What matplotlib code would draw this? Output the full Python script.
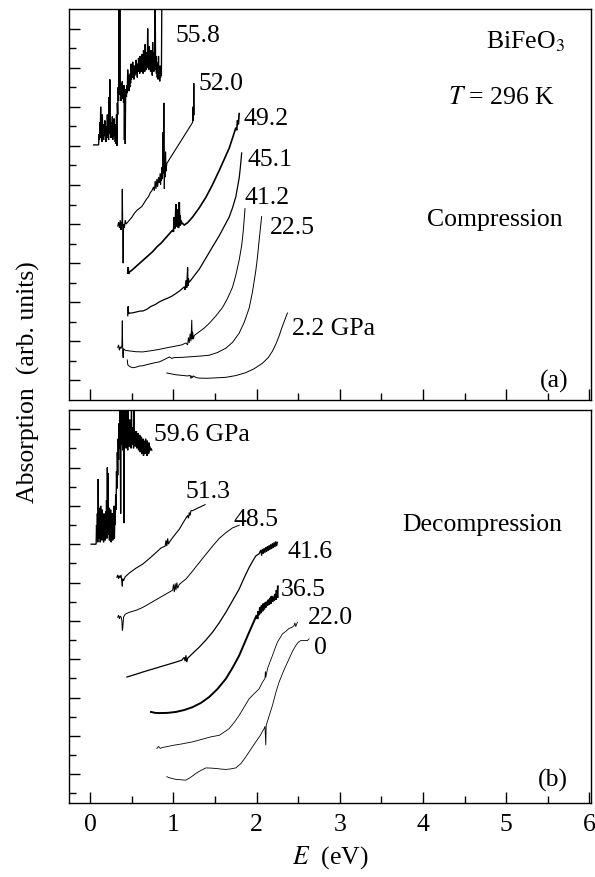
import matplotlib
matplotlib.use("Agg")
import matplotlib.pyplot as plt
from matplotlib.ticker import FixedLocator

plt.rcParams['font.family'] = ['Liberation Serif', 'DejaVu Serif']
plt.rcParams['mathtext.fontset'] = 'stix'
FS = 18.5

# ---------------- panel (a): compression ----------------
p558 = [(0.04,13.05),(0.10,13.05),(0.105,13.6),(0.11,13.3),(0.115,14.2),(0.12,13.5),(0.125,15.0),(0.13,13.4),
        (0.135,14.0),(0.14,13.2),(0.145,14.6),(0.15,13.6),(0.155,14.1),(0.16,13.3),(0.165,13.9),(0.17,13.5),
        (0.175,14.3),(0.18,13.6),(0.185,14.0),(0.19,13.2),(0.195,13.8),(0.20,13.4),(0.205,14.6),(0.21,13.5),
        (0.215,14.0),(0.22,13.3),(0.225,15.5),(0.23,13.8),(0.235,16.4),(0.24,13.6),(0.245,14.2),(0.25,13.4),
        (0.255,14.0),(0.26,13.7),(0.265,14.5),(0.27,13.3),(0.275,13.9),(0.28,13.5),(0.285,14.4),(0.29,13.6),
        (0.295,14.1),(0.30,13.2),(0.305,14.0),(0.31,13.1),(0.315,14.6),(0.32,13.0),(0.325,15.2),(0.33,14.6),
        (0.335,16.0),(0.34,15.3),(0.345,20.5),(0.35,15.8),(0.355,20.5),(0.36,15.6),(0.365,16.2),(0.37,15.3),
        (0.375,16.0),(0.38,15.5),(0.385,16.3),(0.39,15.4),(0.395,15.9),(0.40,15.2),(0.405,16.1),(0.41,13.3),
        (0.415,15.8),(0.42,13.1),(0.425,15.6),(0.43,15.9),(0.435,15.5),(0.44,16.1),(0.445,15.7),(0.45,16.9),
        (0.455,15.9),(0.46,16.4),(0.465,15.8),(0.47,16.6),(0.475,16.0),(0.48,16.7),(0.485,16.2),(0.49,17.2),
        (0.495,16.4),(0.50,16.9),(0.505,16.5),(0.51,17.3),(0.515,16.6),(0.52,16.9),(0.525,16.4),(0.53,17.1),
        (0.535,16.6),(0.54,17.0),(0.545,16.7),(0.55,17.4),(0.555,16.8),(0.56,17.0),(0.565,16.5),(0.57,17.2),
        (0.575,16.8),(0.58,17.5),(0.585,16.9),(0.59,17.1),(0.595,16.7),(0.60,17.6),(0.605,16.9),(0.61,17.2),
        (0.615,16.8),(0.62,17.7),(0.625,16.9),(0.63,17.3),(0.635,16.7),(0.64,17.9),(0.645,17.0),(0.65,17.4),
        (0.655,16.8),(0.66,18.2),(0.665,17.0),(0.67,17.5),(0.675,16.9),(0.68,17.8),(0.685,17.1),(0.69,19.0),
        (0.695,17.0),(0.70,17.6),(0.705,16.9),(0.71,18.1),(0.715,17.2),(0.72,17.7),(0.725,16.8),(0.73,17.9),
        (0.735,17.1),(0.74,17.5),(0.745,16.6),(0.75,18.3),(0.755,17.0),(0.76,17.4),(0.765,16.8),(0.77,17.8),
        (0.775,16.9),(0.78,20.5),(0.785,17.2),(0.79,17.6),(0.795,16.7),(0.80,17.3),(0.805,16.5),(0.81,17.0),
        (0.815,16.4),(0.82,17.6),(0.825,16.6),(0.83,16.9),(0.835,16.3),(0.84,17.1),(0.845,16.5),(0.85,17.0),
        (0.855,16.6),(0.86,20.5),(0.865,20.5)]
p520 = [(0.33,8.9),(0.34,9.1),(0.35,8.8),(0.36,9.2),(0.37,8.7),(0.375,9.1),(0.38,8.9),(0.385,10.8),(0.39,8.8),
        (0.395,7.0),(0.40,9.0),(0.41,8.8),(0.42,9.2),(0.43,9.0),(0.45,9.1),(0.47,9.2),(0.50,9.35),(0.53,9.55),
        (0.56,9.7),(0.59,9.8),(0.62,9.9),(0.65,10.1),(0.68,10.3),(0.70,10.4),(0.72,10.6),(0.74,10.7),(0.76,10.9),
        (0.77,10.7),(0.78,11.2),(0.79,10.8),(0.80,11.3),(0.81,10.9),(0.82,11.4),(0.83,11.1),(0.84,11.6),
        (0.845,11.0),(0.85,11.55),(0.855,11.2),(0.86,11.9),(0.865,11.3),(0.87,11.4),(0.875,13.7),(0.88,11.6),
        (0.885,15.2),(0.89,10.8),(0.895,12.1),(0.90,11.4),(0.905,12.7),(0.91,11.7),(0.92,12.1),(1.23,14.2),
        (1.235,15.0),(1.24,14.3),(1.245,16.2),(1.25,14.6)]
p492 = [(0.45,6.5),(0.455,6.8),(0.46,6.45),(0.47,6.55),(0.50,6.64),(0.55,6.83),(0.60,7.02),(0.65,7.21),
        (0.70,7.40),(0.75,7.59),(0.80,7.83),(0.85,8.02),(0.90,8.26),(0.95,8.5),(0.99,8.69),(1.00,8.6),
        (1.01,9.36),(1.02,8.78),(1.03,10.02),(1.04,8.88),(1.05,9.74),(1.06,8.8),(1.07,10.12),(1.075,8.9),
        (1.08,9.45),(1.085,8.97),(1.09,9.17),(1.10,9.07),(1.13,8.95),(1.17,9.07),(1.23,9.36),(1.31,9.83),
        (1.39,10.37),(1.47,11.02),(1.55,11.74),(1.61,12.31),(1.67,12.88),(1.71,13.4),(1.75,13.93),(1.76,13.8),
        (1.77,14.31),(1.78,14.1),(1.79,14.65)]
p451 = [(0.45,4.31),(0.455,4.79),(0.46,4.41),(0.47,4.45),(0.50,4.45),(0.55,4.5),(0.60,4.55),(0.63,4.55),
        (0.68,4.64),(0.73,4.79),(0.78,4.88),(0.83,5.02),(0.88,5.12),(0.93,5.21),(0.98,5.31),(1.03,5.45),
        (1.08,5.6),(1.13,5.79),(1.14,5.64),(1.15,6.12),(1.16,5.74),(1.17,6.79),(1.175,5.83),(1.18,6.21),
        (1.19,6.02),(1.25,6.36),(1.31,6.69),(1.37,7.12),(1.43,7.55),(1.49,7.98),(1.55,8.40),(1.61,8.88),
        (1.67,9.36),(1.71,9.83),(1.75,10.40),(1.77,10.88),(1.79,11.36),(1.805,11.93),(1.82,12.64)]
p412 = [(0.33,2.68),(0.34,2.82),(0.35,2.54),(0.36,2.73),(0.37,2.63),(0.38,2.78),(0.385,4.06),(0.39,2.44),
        (0.395,2.16),(0.40,2.63),(0.42,2.54),(0.47,2.51),(0.55,2.47),(0.63,2.46),(0.73,2.52),(0.83,2.59),
        (0.93,2.68),(1.03,2.76),(1.10,2.82),(1.15,2.92),(1.17,2.82),(1.18,3.2),(1.19,2.92),(1.20,3.39),
        (1.21,3.01),(1.22,4.1),(1.225,3.11),(1.23,3.49),(1.24,3.11),(1.25,3.3),(1.30,3.46),(1.37,3.68),
        (1.43,3.92),(1.51,4.3),(1.59,4.73),(1.65,5.2),(1.71,5.77),(1.75,6.39),(1.79,7.16),(1.82,7.9),
        (1.84,8.69),(1.86,9.79)]
p225 = [(0.445,2.05),(0.45,1.81),(0.46,1.76),(0.48,1.7),(0.51,1.65),(0.55,1.68),(0.59,1.74),(0.63,1.75),
        (0.68,1.81),(0.73,1.86),(0.78,1.91),(0.83,1.95),(0.89,2.07),(0.95,2.2),(0.98,2.13),(1.01,2.17),
        (1.10,2.18),(1.23,2.22),(1.33,2.25),(1.43,2.29),(1.53,2.43),(1.63,2.65),(1.71,2.95),(1.79,3.42),
        (1.85,3.97),(1.91,4.7),(1.95,5.53),(1.99,6.62),(2.01,7.31),(2.03,8.17),(2.06,9.38)]
p22 = [(0.92,1.38),(0.97,1.34),(1.03,1.29),(1.10,1.26),(1.17,1.23),(1.20,1.26),(1.21,1.10),(1.22,1.24),
       (1.23,1.15),(1.24,1.23),(1.27,1.15),(1.31,1.12),(1.40,1.11),(1.50,1.13),(1.63,1.16),(1.75,1.25),
       (1.87,1.4),(1.97,1.6),(2.07,1.88),(2.14,2.17),(2.19,2.5),(2.23,2.85),(2.27,3.27),(2.30,3.66),
       (2.33,4.0),(2.37,4.45)]
curves_a = [p558, p520, p492, p451, p412, p225, p22]
widths_a = [0.95, 0.8, 1.2, 0.9, 0.7, 0.7, 0.7]
labels_a = ['55.8', '52.0', '49.2', '45.1', '41.2', '22.5', '2.2 GPa']
label_pos_a = [(1.03, 18.32), (1.30, 15.87), (1.84, 14.05), (1.89, 11.99), (1.86, 10.03), (2.16, 8.47), (2.43, 3.33)]

# ---------------- panel (b): decompression ----------------
d596 = [(0.01,13.0),(0.07,13.0),(0.075,14.0),(0.08,13.2),(0.085,14.6),(0.09,13.1),(0.095,16.4),(0.10,13.5),
        (0.105,14.9),(0.11,13.3),(0.115,14.4),(0.12,13.1),(0.125,15.0),(0.13,13.6),(0.135,14.3),(0.14,13.2),
        (0.145,14.8),(0.15,13.4),(0.155,14.2),(0.16,13.1),(0.165,14.6),(0.17,13.5),(0.175,14.0),(0.18,13.2),
        (0.185,14.7),(0.19,13.4),(0.195,15.3),(0.20,13.3),(0.205,17.0),(0.21,13.6),(0.215,16.7),(0.22,13.5),
        (0.225,14.9),(0.23,13.2),(0.235,14.5),(0.24,13.4),(0.245,14.8),(0.25,13.1),(0.255,14.2),(0.26,13.3),
        (0.265,14.6),(0.27,13.2),(0.275,14.1),(0.28,13.5),(0.285,15.0),(0.29,13.3),(0.295,14.4),(0.30,14.0),
        (0.305,15.6),(0.31,14.8),(0.315,16.8),(0.32,15.9),(0.325,17.8),(0.33,16.6),(0.335,18.5),(0.34,17.4),
        (0.345,19.3),(0.35,18.0),(0.355,20.5),(0.36,18.4),(0.365,14.6),(0.37,18.9),(0.375,20.5),(0.38,18.2),
        (0.385,19.4),(0.39,17.9),(0.395,20.5),(0.40,18.6),(0.405,14.1),(0.41,18.9),(0.415,20.5),(0.42,18.3),
        (0.425,19.6),(0.43,18.0),(0.435,20.5),(0.44,18.5),(0.445,19.2),(0.45,17.9),(0.455,20.5),(0.46,18.4),
        (0.465,19.0),(0.47,18.1),(0.475,19.5),(0.48,18.3),(0.485,18.9),(0.49,18.0),(0.495,20.5),(0.50,18.4),
        (0.505,19.1),(0.51,18.2),(0.515,18.8),(0.52,18.0),(0.525,20.5),(0.53,18.3),(0.535,18.9),(0.54,18.1),
        (0.545,18.7),(0.55,18.2),(0.555,18.9),(0.56,18.0),(0.565,18.6),(0.57,18.1),(0.575,18.8),(0.58,17.9),
        (0.585,18.5),(0.59,18.0),(0.595,18.7),(0.60,17.8),(0.605,18.4),(0.61,17.9),(0.615,18.6),(0.62,17.7),
        (0.625,18.3),(0.63,18.0),(0.635,18.5),(0.64,17.6),(0.645,18.4),(0.65,17.9),(0.655,18.2),(0.66,17.7),
        (0.665,18.5),(0.67,17.8),(0.675,18.1),(0.68,17.6),(0.685,18.4),(0.69,17.9),(0.695,18.2),(0.70,17.7),
        (0.705,18.3),(0.71,17.8),(0.715,18.1),(0.72,17.9),(0.73,18.0),(0.74,17.9)]
d513 = [(0.32,11.27),(0.33,11.4),(0.34,11.2),(0.35,11.35),(0.36,11.25),(0.37,11.4),(0.38,11.0),(0.385,10.8),
        (0.39,11.2),(0.40,11.1),(0.42,11.3),(0.47,11.5),(0.55,11.75),(0.63,11.96),(0.71,12.25),(0.79,12.56),
        (0.85,12.8),(0.90,12.9),(0.91,13.2),(0.92,12.9),(0.93,13.3),(0.94,13.0),(0.95,13.1),(1.00,13.4),
        (1.07,13.78),(1.12,14.15),(1.17,14.5),(1.18,14.35),(1.19,14.65),(1.20,14.5),(1.21,14.75),(1.23,14.75),
        (1.30,14.9),(1.38,15.06)]
d485 = [(0.33,9.19),(0.34,9.3),(0.35,9.1),(0.36,9.25),(0.37,9.2),(0.38,9.0),(0.385,8.5),(0.39,8.6),(0.40,9.2),
        (0.42,9.35),(0.47,9.45),(0.55,9.55),(0.63,9.7),(0.73,9.95),(0.83,10.2),(0.93,10.45),(0.99,10.6),
        (1.00,10.9),(1.01,10.5),(1.02,10.95),(1.03,10.6),(1.04,11.0),(1.05,10.7),(1.07,10.9),(1.11,11.05),
        (1.15,11.18),(1.23,11.6),(1.31,12.04),(1.39,12.47),(1.47,12.9),(1.55,13.3),(1.63,13.6),(1.71,13.85),
        (1.79,13.99)]
d416 = [(0.44,6.07),(0.50,6.15),(0.56,6.23),(0.63,6.33),(0.73,6.46),(0.83,6.59),(0.93,6.72),(1.03,6.85),
        (1.10,6.95),(1.13,7.1),(1.14,6.9),(1.15,7.2),(1.16,6.85),(1.17,7.05),(1.23,7.3),(1.31,7.63),(1.39,8.0),
        (1.47,8.41),(1.55,8.9),(1.63,9.45),(1.71,10.05),(1.79,10.66),(1.85,11.25),(1.91,11.79),(1.95,12.1),
        (1.99,12.39),(2.03,12.5),(2.05,12.7),(2.06,12.4),(2.07,12.75),(2.08,12.5),(2.09,12.8),(2.10,12.55),
        (2.11,12.85),(2.12,12.6),(2.13,12.9),(2.14,12.65),(2.15,12.95),(2.16,12.7),(2.17,13.0),(2.18,12.75),
        (2.19,13.05),(2.20,12.8),(2.21,13.1),(2.22,12.85),(2.23,13.15),(2.24,12.9),(2.25,13.1)]
d365 = [(0.73,4.25),(0.78,4.2),(0.83,4.19),(0.93,4.2),(1.03,4.25),(1.13,4.35),(1.23,4.5),(1.33,4.72),
        (1.43,5.03),(1.53,5.45),(1.63,5.98),(1.71,6.55),(1.79,7.19),(1.85,7.8),(1.91,8.41),(1.97,9.0),
        (2.00,9.3),(2.01,9.1),(2.02,9.5),(2.03,9.3),(2.04,9.7),(2.05,9.4),(2.06,9.8),(2.07,9.5),(2.08,9.9),
        (2.09,9.6),(2.10,9.95),(2.11,9.7),(2.12,10.0),(2.13,9.8),(2.14,10.1),(2.15,9.85),(2.16,10.2),
        (2.17,9.9),(2.18,10.3),(2.19,10.0),(2.20,10.25),(2.21,10.05),(2.22,10.4),(2.23,10.1),(2.24,10.6),
        (2.25,10.2),(2.255,10.8)]
d220 = [(0.80,2.34),(0.82,2.45),(0.84,2.35),(0.87,2.4),(0.91,2.43),(1.00,2.51),(1.10,2.58),(1.23,2.69),
        (1.35,2.83),(1.45,2.95),(1.55,3.03),(1.61,3.2),(1.67,3.38),(1.73,3.7),(1.79,4.07),(1.85,4.5),
        (1.91,4.94),(1.97,5.2),(2.03,5.46),(2.07,5.8),(2.10,6.0),(2.105,6.35),(2.11,6.05),(2.13,6.5),
        (2.16,6.85),(2.19,7.19),(2.22,7.55),(2.25,7.89),(2.28,8.1),(2.31,8.32),(2.35,8.45),(2.39,8.61),
        (2.42,8.65),(2.45,8.75),(2.46,8.9),(2.47,8.7),(2.49,8.93)]
d000 = [(0.92,0.87),(0.95,0.82),(0.98,0.78),(1.03,0.73),(1.07,0.72),(1.11,0.70),(1.15,0.69),(1.21,0.85),
        (1.27,1.04),(1.33,1.2),(1.39,1.33),(1.45,1.32),(1.51,1.30),(1.57,1.27),(1.63,1.25),(1.69,1.28),
        (1.75,1.33),(1.81,1.55),(1.87,1.91),(1.93,2.3),(1.99,2.69),(2.04,3.0),(2.09,3.38),(2.10,3.5),
        (2.11,2.51),(2.115,3.55),(2.14,3.9),(2.19,4.59),(2.23,5.25),(2.27,5.81),(2.33,6.45),(2.39,7.02),
        (2.43,7.4),(2.47,7.71),(2.50,7.88),(2.53,7.97),(2.57,7.98),(2.61,7.97),(2.63,8.06)]
curves_b = [d596, d513, d485, d416, d365, d220, d000]
widths_b = [0.95, 0.8, 0.7, 0.9, 1.4, 0.6, 0.6]
labels_b = ['59.6 GPa', '51.3', '48.5', '41.6', '36.5', '22.0', '0']
label_pos_b = [(0.77, 18.36), (1.14, 15.42), (1.72, 13.94), (2.37, 12.30), (2.29, 10.31), (2.61, 8.83), (2.69, 7.27)]

x_major = [0, 1, 2, 3, 4, 5, 6]
x_minor = [0.5, 1.5, 2.5, 3.5, 4.5, 5.5]

fig = plt.figure(figsize=(5.95, 8.77), dpi=100)
axa = fig.add_axes([0.1168, 0.5439, 0.8765, 0.4458])
axb = fig.add_axes([0.1168, 0.0844, 0.8765, 0.4481])


def style(ax, ymin, yminor):
    ax.set_xlim(-0.25, 6.02)
    ax.set_ylim(ymin, 20)
    ax.xaxis.set_major_locator(FixedLocator(x_major))
    ax.xaxis.set_minor_locator(FixedLocator(x_minor))
    ax.yaxis.set_major_locator(FixedLocator([1, 3, 5, 7, 9, 11, 13, 15, 17, 19]))
    ax.yaxis.set_minor_locator(FixedLocator(yminor))
    ax.tick_params(which='both', direction='in', top=False, right=False, width=1.0,
                   labelleft=False, labelsize=FS, pad=8)
    ax.tick_params(which='major', length=8)
    ax.tick_params(which='minor', length=5)
    for s in ax.spines.values():
        s.set_linewidth(1.0)


def draw(ax, curves, widths, labels, label_pos):
    for pts, lw, lab, (lx, ly) in zip(curves, widths, labels, label_pos):
        xs = [p[0] for p in pts]
        ys = [p[1] for p in pts]
        ax.plot(xs, ys, color='black', lw=lw, solid_joinstyle='miter')
        ax.text(lx, ly, lab, fontsize=FS, ha='left', va='baseline')


style(axa, 0, [2, 4, 6, 8, 10, 12, 14, 16, 18])
style(axb, -0.5, [0, 2, 4, 6, 8, 10, 12, 14, 16, 18])
axa.tick_params(labelbottom=False)

draw(axa, curves_a, widths_a, labels_a, label_pos_a)
draw(axb, curves_b, widths_b, labels_b, label_pos_b)

axa.text(0.950, 0.899, r'BiFeO$_3$', transform=axa.transAxes, fontsize=FS, ha='right', va='baseline')
axa.text(0.931, 0.758, r'$T$ = 296 K', transform=axa.transAxes, fontsize=FS, ha='right', va='baseline')
axa.text(0.946, 0.444, 'Compression', transform=axa.transAxes, fontsize=FS, ha='right', va='baseline')
axa.text(0.956, 0.031, '(a)', transform=axa.transAxes, fontsize=FS, ha='right', va='baseline')
axb.text(0.944, 0.691, 'Decompression', transform=axb.transAxes, fontsize=FS, ha='right', va='baseline')
axb.text(0.956, 0.043, '(b)', transform=axb.transAxes, fontsize=FS, ha='right', va='baseline')

fig.text(330 / 595, 1 - 858 / 877, r'$E$  (eV)', fontsize=FS, ha='center', va='center')
fig.text(28 / 595, 1 - 382 / 877, 'Absorption  (arb. units)', fontsize=FS, rotation=90,
         ha='center', va='center')

fig.savefig('out.png', dpi=100)
